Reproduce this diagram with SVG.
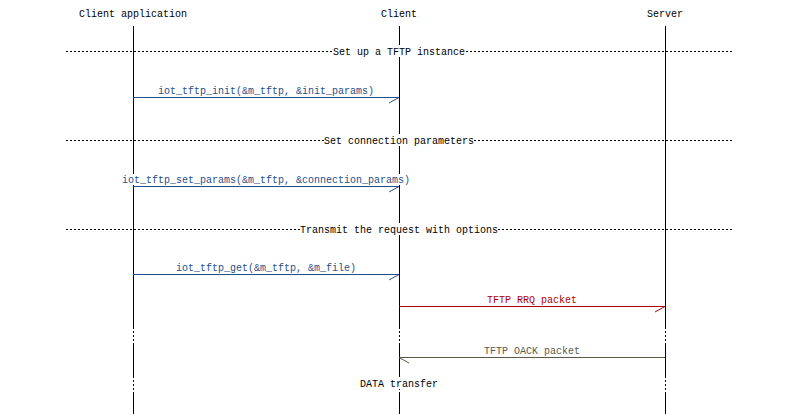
<svg xmlns="http://www.w3.org/2000/svg" width="798" height="414" viewBox="0 0 798 414">
<style>
text{font-family:"Liberation Mono","DejaVu Sans Mono",monospace;font-size:10px;text-anchor:middle}
.life{stroke:#000;stroke-width:1;fill:none}
.dot{stroke:#000;stroke-width:1;stroke-dasharray:2,2;fill:none}
.sep{stroke:#000;stroke-width:1;stroke-dasharray:2,2;fill:none}
.bg{fill:#fff}
.blue{stroke:#1f4f8a;fill:none}
.red{stroke:#b00000;fill:none}
.gray{stroke:#5a5a48;fill:none}
</style>
<rect width="798" height="414" fill="#fff"/>
<g id="client-application">
<text x="133" y="17">Client application</text>
<path class="life" d="M133.5 26V327M133.5 344V376M133.5 393V414"/>
<path class="dot" d="M133.5 327V344M133.5 376V393"/>
</g>
<g id="client">
<text x="399" y="17">Client</text>
<path class="life" d="M399.5 26V327M399.5 344V376M399.5 393V414"/>
<path class="dot" d="M399.5 327V344M399.5 376V393"/>
</g>
<g id="server">
<text x="665" y="17">Server</text>
<path class="life" d="M665.5 26V327M665.5 344V376M665.5 393V414"/>
<path class="dot" d="M665.5 327V344M665.5 376V393"/>
</g>
<g id="separators">
<path class="sep" d="M66 51.5H732"/>
<rect class="bg" x="333" y="45" width="132" height="12"/>
<text x="399" y="55">Set up a TFTP instance</text>
<path class="sep" d="M66 140.5H732"/>
<rect class="bg" x="324" y="134" width="150" height="12"/>
<text x="399" y="144">Set connection parameters</text>
<path class="sep" d="M66 229.5H732"/>
<rect class="bg" x="300" y="223" width="198" height="12"/>
<text x="399" y="233">Transmit the request with options</text>
<rect class="bg" x="360" y="377" width="78" height="12"/>
<text x="399" y="387">DATA transfer</text>
</g>
<g id="connectors">
<path class="blue" d="M133 97.5H399M399 97.5L389 103"/>
<rect class="bg" x="158" y="85" width="216" height="11"/>
<text x="266" y="94" fill="#1f4f8a">iot_tftp_init(&amp;m_tftp, &amp;init_params)</text>
<path class="blue" d="M133 186.5H399M399 186.5L389 192"/>
<rect class="bg" x="119" y="174" width="294" height="11"/>
<text x="266" y="183" fill="#1f4f8a">iot_tftp_set_params(&amp;m_tftp, &amp;connection_params)</text>
<path class="blue" d="M133 274.5H399M399 274.5L389 280"/>
<rect class="bg" x="173" y="262" width="186" height="11"/>
<text x="266" y="271" fill="#1f4f8a">iot_tftp_get(&amp;m_tftp, &amp;m_file)</text>
<path class="red" d="M399 306.5H665M665 306.5L655 312"/>
<rect class="bg" x="487" y="294" width="90" height="11"/>
<text x="532" y="303" fill="#b00000">TFTP RRQ packet</text>
<path class="gray" d="M665 357.5H399M399 357.5L409 363"/>
<rect class="bg" x="484" y="345" width="96" height="11"/>
<text x="532" y="354" fill="#5a5a48">TFTP OACK packet</text>
</g>
</svg>
